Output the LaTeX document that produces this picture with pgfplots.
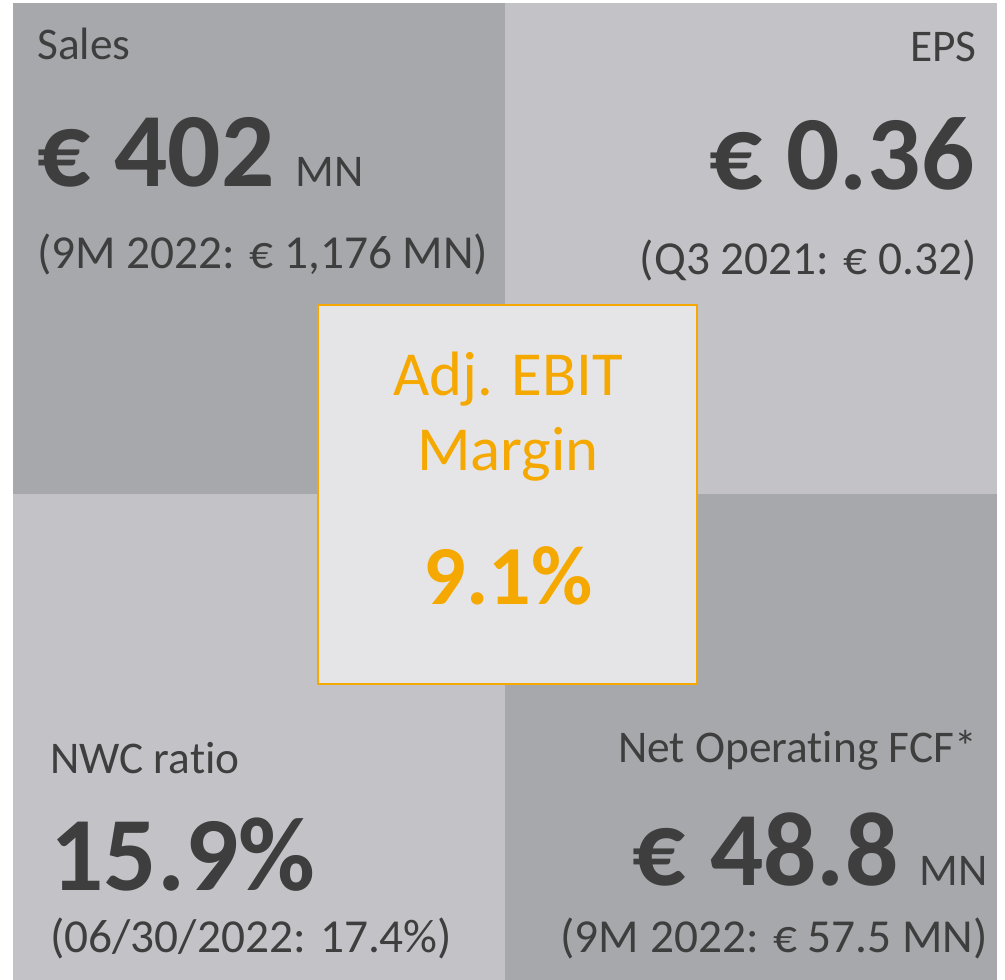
\documentclass[border=0pt]{standalone}
\usepackage{fontspec}
\setmainfont{Carlito}[Ligatures=NoCommon]
\usepackage{pgfplots}
\pgfplotsset{compat=1.18}
\definecolor{cDark}{RGB}{167,168,172}
\definecolor{cLight}{RGB}{195,194,199}
\definecolor{cCenter}{RGB}{229,229,231}
\definecolor{cOrange}{RGB}{245,168,0}
\definecolor{cText}{RGB}{62,62,62}
\newcommand{\kpilbl}{\fontsize{34}{40}\selectfont}
\newcommand{\kpisub}{\fontsize{35.5}{42}\selectfont}
\newcommand{\kpibig}{\fontsize{79}{90}\selectfont\bfseries}
\begin{document}
\begin{tikzpicture}
\begin{axis}[
  scale only axis, width=753.75pt, height=735pt,
  xmin=0, xmax=1005, ymin=0, ymax=980, y dir=reverse,
  hide axis, clip=false,
]
% full canvas for the bounding box
\path (axis cs:0,0) rectangle (axis cs:1005,980);
% tiles
\addplot[fill=cDark, draw=none] coordinates {(13,3) (505,3) (505,494) (13,494)} -- cycle;
\addplot[fill=cLight, draw=none] coordinates {(505,3) (997,3) (997,494) (505,494)} -- cycle;
\addplot[fill=cLight, draw=none] coordinates {(13,494) (505,494) (505,980) (13,980)} -- cycle;
\addplot[fill=cDark, draw=none] coordinates {(505,494) (997,494) (997,980) (505,980)} -- cycle;
\addplot[fill=cCenter, draw=cOrange, line width=1.6pt] coordinates {(318,305) (697,305) (697,684) (318,684)} -- cycle;

% Sales
\node[anchor=base west, text=cText, inner sep=0pt] at (axis cs:37,60) {\kpilbl Sales};
\node[anchor=base west, text=cText, inner sep=0pt] at (axis cs:37,187) {\kpibig € 402\hspace{16pt}\mdseries\kpilbl MN};
\node[anchor=base west, text=cText, inner sep=0pt] at (axis cs:37,268) {\kpisub (9M 2022: € 1,176 MN)};
% EPS
\node[anchor=base east, text=cText, inner sep=0pt] at (axis cs:977,62) {\kpilbl EPS};
\node[anchor=base east, text=cText, inner sep=0pt] at (axis cs:975,190) {\kpibig € 0.36};
\node[anchor=base east, text=cText, inner sep=0pt] at (axis cs:977,275) {\kpisub (Q3 2021: € 0.32)};
% centre
\node[anchor=base, text=cOrange, inner sep=0pt] at (axis cs:508,395) {\fontsize{47}{54}\selectfont Adj. EBIT};
\node[anchor=base, text=cOrange, inner sep=0pt] at (axis cs:508,470) {\fontsize{47}{54}\selectfont Margin};
\node[anchor=base, text=cOrange, inner sep=0pt] at (axis cs:508,604) {\fontsize{63}{72}\selectfont\bfseries 9.1\%};
% NWC
\node[anchor=base west, text=cText, inner sep=0pt] at (axis cs:50,773) {\kpilbl NWC ratio};
\node[anchor=base west, text=cText, inner sep=0pt] at (axis cs:50,890) {\kpibig 15.9\%};
\node[anchor=base west, text=cText, inner sep=0pt] at (axis cs:50,952) {\kpisub (06/30/2022: 17.4\%)};
% FCF
\node[anchor=base east, text=cText, inner sep=0pt] at (axis cs:977,762) {\kpilbl Net Operating FCF*};
\node[anchor=base east, text=cText, inner sep=0pt] at (axis cs:988,885) {\kpibig € 48.8\hspace{16pt}\mdseries\kpilbl MN};
\node[anchor=base east, text=cText, inner sep=0pt] at (axis cs:988,952) {\kpisub (9M 2022: € 57.5 MN)};
\end{axis}
\end{tikzpicture}
\end{document}
